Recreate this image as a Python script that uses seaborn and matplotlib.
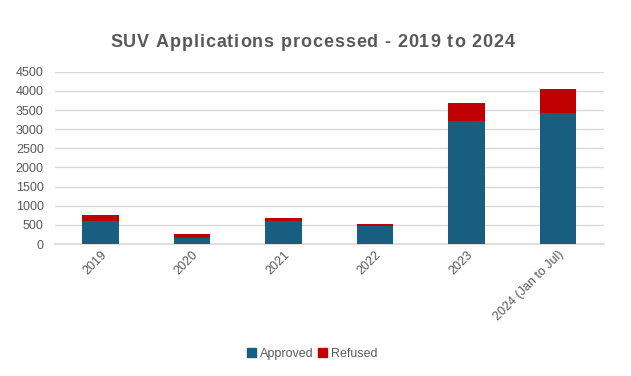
import pandas as pd
import seaborn as sns
import matplotlib.pyplot as plt
from matplotlib.patches import Patch

# values
years = ["2019", "2020", "2021", "2022", "2023", "2024 (Jan to Jul)"]
approved = [605, 165, 600, 470, 3205, 3415]
refused = [160, 95, 80, 60, 485, 625]

df = pd.DataFrame({"year": years, "Approved": approved, "Refused": refused})
df["total"] = df["Approved"] + df["Refused"]

blue = "#175e80"
red = "#c00000"
grey = "#595959"

sns.set_theme(style="white")
plt.rcParams["font.family"] = ["Liberation Sans", "DejaVu Sans"]

fig = plt.figure(figsize=(6.31, 3.76), dpi=100)
ax = fig.add_axes([0.087, 0.351, 0.870, 0.458])

# total first (red), approved drawn over it (blue)
sns.barplot(x="year", y="total", data=df, color=red, width=0.4,
            saturation=1.0, ax=ax, zorder=2, linewidth=0)
sns.barplot(x="year", y="Approved", data=df, color=blue, width=0.4,
            saturation=1.0, ax=ax, zorder=3, linewidth=0)

ax.set_ylim(0, 4500)
ax.set_yticks(range(0, 4501, 500))
ax.set_xlim(-0.5, len(years) - 0.5)
ax.yaxis.grid(True, color="#d9d9d9", linewidth=1)
ax.set_axisbelow(True)
for s in ["top", "right", "left"]:
    ax.spines[s].set_visible(False)
ax.spines["bottom"].set_color("#d9d9d9")
ax.tick_params(axis="both", length=0, colors=grey, labelsize=9)
ax.tick_params(axis="y", pad=8)
plt.setp(ax.get_xticklabels(), rotation=45, ha="right", rotation_mode="anchor")
ax.set_xlabel("")
ax.set_ylabel("")

# title with a bit of letter spacing, one character at a time
title = "SUV Applications processed - 2019 to 2024"
spacing = 0.9  # px between letters
renderer = fig.canvas.get_renderer()
widths = []
for ch in title:
    t = fig.text(0, 0, ch if ch != " " else "a a", fontsize=13, fontweight="bold")
    w = t.get_window_extent(renderer).width
    if ch == " ":
        t2 = fig.text(0, 0, "aa", fontsize=13, fontweight="bold")
        w = w - t2.get_window_extent(renderer).width
        t2.remove()
    t.remove()
    widths.append(w)
total_w = sum(widths) + spacing * (len(title) - 1)
x = 0.495 * fig.bbox.width - total_w / 2
for ch, w in zip(title, widths):
    if ch != " ":
        fig.text(x / fig.bbox.width, 0.888, ch, ha="left", va="center",
                 fontsize=13, fontweight="bold", color=grey)
    x += w + spacing

handles = [Patch(color=blue, label="Approved"), Patch(color=red, label="Refused")]
fig.legend(handles=handles, loc="center", bbox_to_anchor=(0.495, 0.058), ncol=2,
           frameon=False, fontsize=9, handlelength=0.7, handleheight=0.7,
           handletextpad=0.3, columnspacing=0.4, labelcolor=grey)

fig.savefig("out.png", dpi=100)
